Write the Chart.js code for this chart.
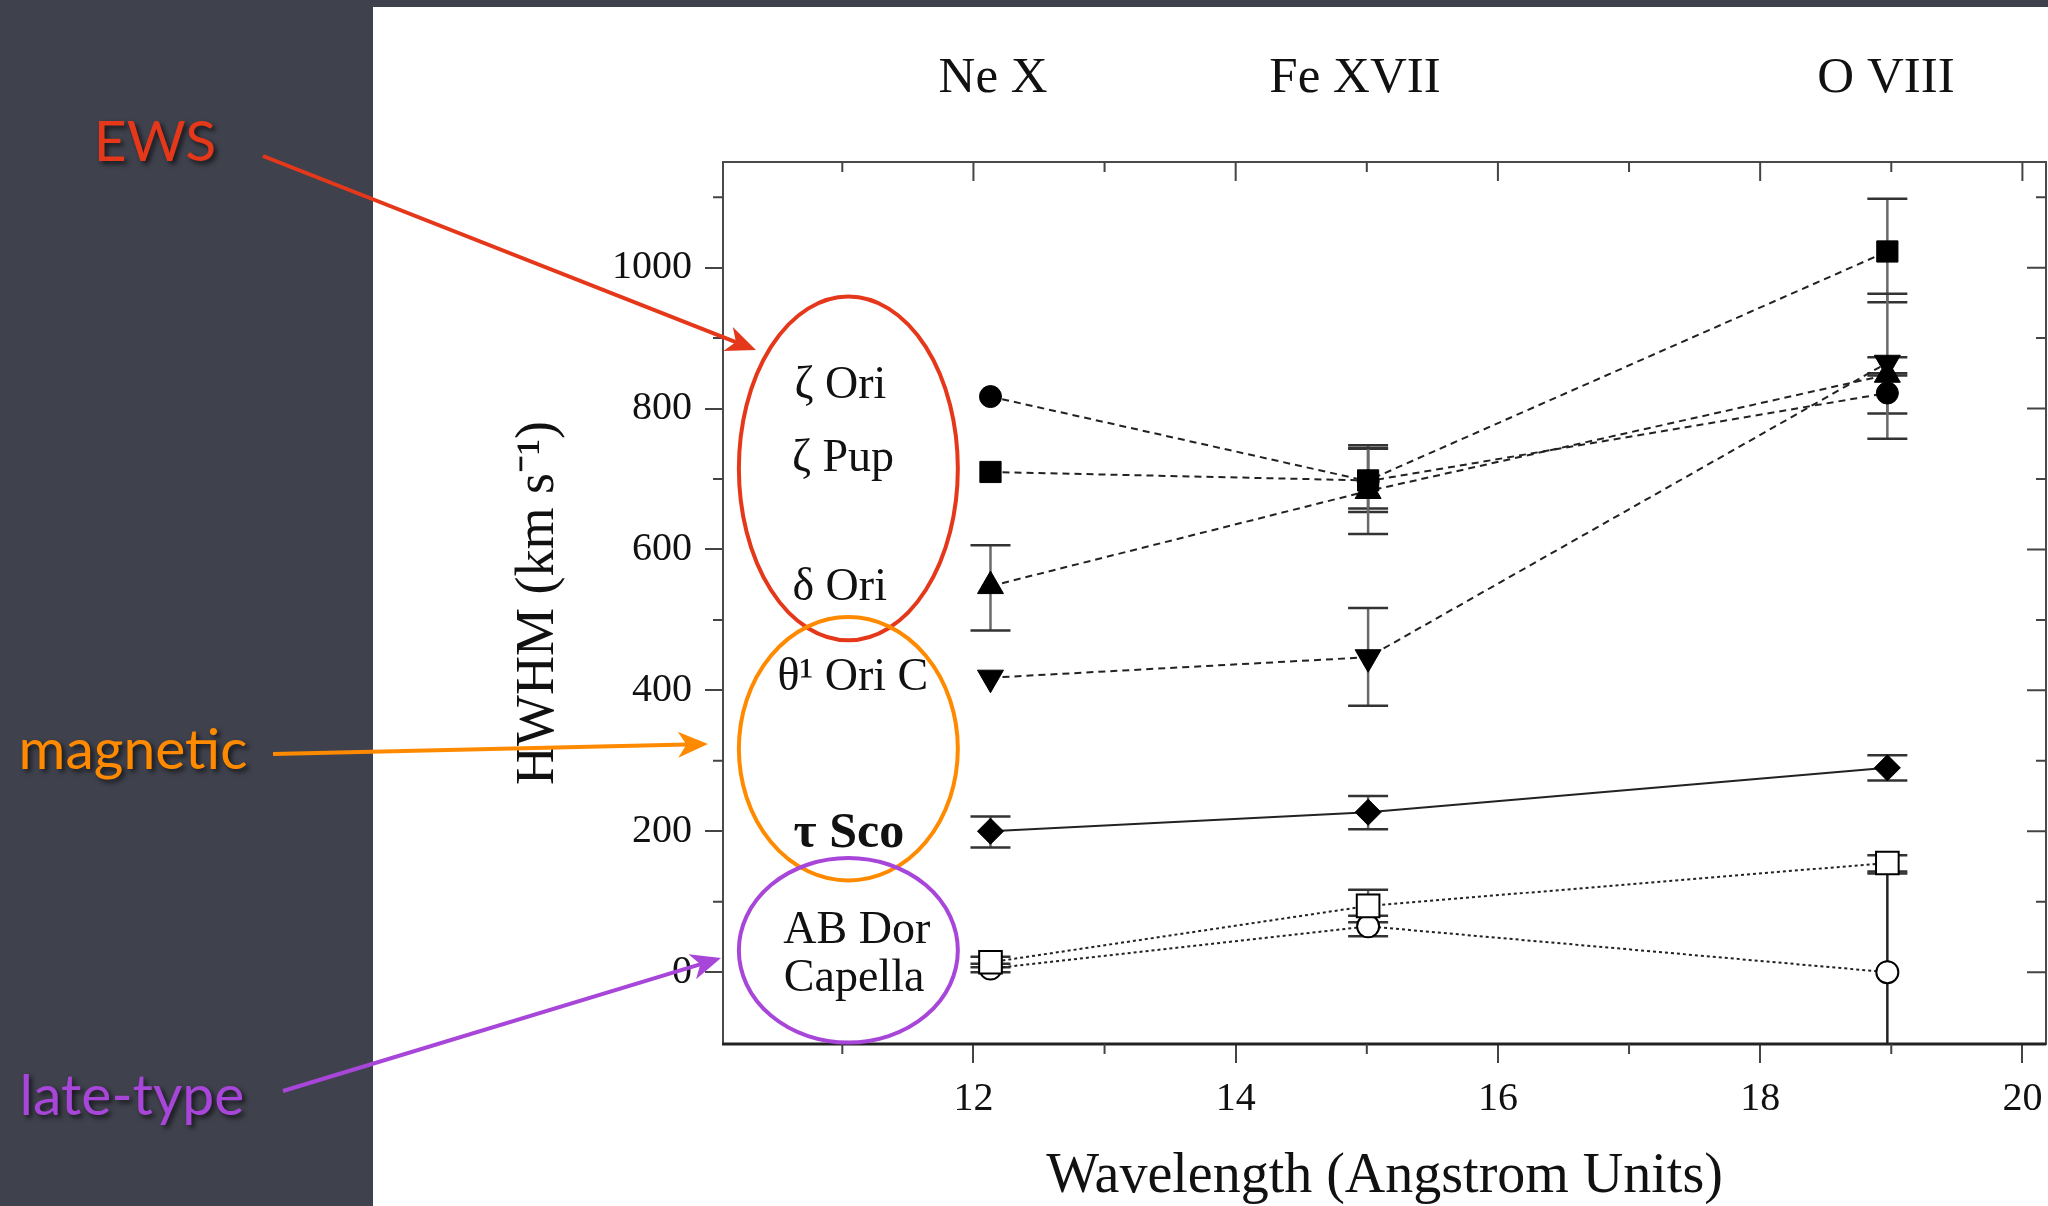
<!DOCTYPE html>
<html>
<head>
<meta charset="utf-8">
<script src="https://cdn.jsdelivr.net/npm/chart.js@4.4.0/dist/chart.umd.min.js"></script>
<style>
  html, body { margin: 0; padding: 0; background: #3f414c; overflow: hidden; }
  #wrap { width: 2048px; height: 1206px; }
</style>
</head>
<body>
<div id="wrap"><canvas id="c" width="2048" height="1206"></canvas></div>
<script>
// Line centroids (Angstrom) for the three X-ray lines
const wavelengths = [12.13, 15.01, 18.97];
const ionLabels = ['Ne X', 'Fe XVII', 'O VIII'];
const ionLabelX = [12.15, 14.91, 18.96];

// HWHM values (km/s) with lower / upper error limits (null = no bar)
const zetaOri = [817, 697, 822];
const zetaOriLow = [null, 658, 793];
const zetaOriHigh = [null, 748, 850];

const zetaPup = [710, 698, 1023];
const zetaPupLow = [null, 653, 951];
const zetaPupHigh = [null, 743, 1098];

const deltaOri = [548, 683, 848];
const deltaOriLow = [485, 622, 757];
const deltaOriHigh = [606, 744, 963];

const theta1OriC = [418, 447, 865];
const theta1OriCLow = [null, 378, 847];
const theta1OriCHigh = [null, 517, 873];

const tauSco = [200, 227, 290];
const tauScoLow = [177, 203, 272];
const tauScoHigh = [221, 250, 308];

const abDor = [14, 94, 155];
const abDorLow = [7, 71, 140];
const abDorHigh = [22, 117, 166];

const capella = [5, 65, 0];
const capellaLow = [0, 51, -145];
const capellaHigh = [12, 80, 143];

// Axis ticks
const xMajorTicks = [12, 14, 16, 18, 20];
const xMinorTicks = [11, 13, 15, 17, 19];
const yMajorTicks = [0, 200, 400, 600, 800, 1000];
const yMinorTicks = [100, 300, 500, 700, 900, 1100];

// Star names written inside the group ellipses (x in Angstrom, y in km/s)
const starNames = ['ζ Ori', 'ζ Pup', 'δ Ori', 'θ¹ Ori C', 'τ Sco', 'AB Dor', 'Capella'];
const starNameX = [10.985, 11.005, 10.98, 11.08, 11.05, 11.11, 11.09];
const starNameY = [832, 729, 546, 417, 196, 59, -10];

// Group ellipses: centre and half-axes in data units
const groupNames = ['EWS', 'magnetic', 'late-type'];
const groupColors = ['#e5381b', '#ff8a00', '#a746d9'];
const groupCx = [11.046, 11.046, 11.046];
const groupCy = [715, 317, 31];
const groupRx = [0.835, 0.835, 0.835];
const groupRy = [244, 187, 131];

const SERIF = "'Liberation Serif', 'Times New Roman', serif";

function pts(values) {
  return wavelengths.map((x, i) => ({ x: x, y: values[i] }));
}

function series(label, values, low, high, opts) {
  return Object.assign({
    label: label,
    data: pts(values),
    errLow: low,
    errHigh: high,
    errColor: '#6a6a6a',
    borderColor: '#222',
    borderWidth: 2,
    pointBackgroundColor: '#000',
    pointBorderColor: '#000',
    pointBorderWidth: 1,
    tension: 0,
    fill: false
  }, opts);
}

const DASH = [7, 5];
const DOT = [3, 3];

const datasets = [
  series('ζ Pup', zetaPup, zetaPupLow, zetaPupHigh, { borderDash: DASH, pointStyle: 'rect', pointRadius: 15 }),
  series('ζ Ori', zetaOri, zetaOriLow, zetaOriHigh, { borderDash: DASH, pointStyle: 'circle', pointRadius: 11 }),
  series('δ Ori', deltaOri, deltaOriLow, deltaOriHigh, { borderDash: DASH, pointStyle: 'triangle', pointRadius: 15 }),
  series('θ¹ Ori C', theta1OriC, theta1OriCLow, theta1OriCHigh, { borderDash: DASH, pointStyle: 'triangle', pointRotation: 180, pointRadius: 15 }),
  series('τ Sco', tauSco, tauScoLow, tauScoHigh, { pointStyle: 'rectRot', pointRadius: 13 }),
  series('AB Dor', abDor, abDorLow, abDorHigh, { borderDash: DOT, pointStyle: 'rect', pointRadius: 16, pointBackgroundColor: '#fff', pointBorderWidth: 2 }),
  series('Capella', capella, capellaLow, capellaHigh, { borderDash: DOT, pointStyle: 'circle', pointRadius: 11, pointBackgroundColor: '#fff', pointBorderWidth: 2, errColor: '#222' })
];

function arrow(ctx, x0, y0, x1, y1, color) {
  const a = Math.atan2(y1 - y0, x1 - x0);
  const c = Math.cos(a), s = Math.sin(a);
  const L = 30, W = 13;
  ctx.strokeStyle = color;
  ctx.fillStyle = color;
  ctx.lineWidth = 4;
  ctx.beginPath();
  ctx.moveTo(x0, y0);
  ctx.lineTo(x1 - L * 0.7 * c, y1 - L * 0.7 * s);
  ctx.stroke();
  ctx.beginPath();
  ctx.moveTo(x1, y1);
  ctx.lineTo(x1 - L * c + W * s, y1 - L * s - W * c);
  ctx.lineTo(x1 - L * 0.72 * c, y1 - L * 0.72 * s);
  ctx.lineTo(x1 - L * c - W * s, y1 - L * s + W * c);
  ctx.closePath();
  ctx.fill();
}

const decorations = {
  id: 'decorations',
  beforeDraw(chart) {
    const { ctx, width, height } = chart;
    ctx.save();
    ctx.fillStyle = '#3f414c';
    ctx.fillRect(0, 0, width, height);
    ctx.fillStyle = '#ffffff';
    ctx.fillRect(373, 7, width - 373, height - 7);
    ctx.restore();
  },
  beforeDatasetsDraw(chart) {
    // error bars sit underneath the markers
    const { ctx, chartArea: ca } = chart;
    const xs = chart.scales.x, ys = chart.scales.y;
    ctx.save();
    ctx.beginPath();
    ctx.rect(ca.left, ca.top, ca.right - ca.left, ca.bottom - ca.top);
    ctx.clip();
    chart.data.datasets.forEach(ds => {
      wavelengths.forEach((w, i) => {
        const lo = ds.errLow[i], hi = ds.errHigh[i];
        if (lo === null || hi === null) return;
        const px = xs.getPixelForValue(w);
        const pl = ys.getPixelForValue(lo), ph = ys.getPixelForValue(hi);
        ctx.strokeStyle = ds.errColor;
        ctx.lineWidth = 2.5;
        ctx.beginPath();
        ctx.moveTo(px, pl);
        ctx.lineTo(px, ph);
        ctx.stroke();
        ctx.strokeStyle = '#333';
        ctx.lineWidth = 2.5;
        ctx.beginPath();
        ctx.moveTo(px - 20, pl); ctx.lineTo(px + 20, pl);
        ctx.moveTo(px - 20, ph); ctx.lineTo(px + 20, ph);
        ctx.stroke();
      });
    });
    ctx.restore();
  },
  afterDraw(chart) {
    const { ctx, chartArea: ca } = chart;
    const xs = chart.scales.x, ys = chart.scales.y;
    ctx.save();

    // frame
    ctx.strokeStyle = '#4a4a4a';
    ctx.lineWidth = 2;
    ctx.strokeRect(ca.left, ca.top, ca.right - ca.left, ca.bottom - ca.top);
    ctx.strokeStyle = '#222';
    ctx.lineWidth = 3;
    ctx.beginPath();
    ctx.moveTo(ca.left - 1, ca.bottom); ctx.lineTo(ca.right, ca.bottom);
    ctx.stroke();

    // minor ticks outside (left / bottom), all ticks inside (top / right)
    ctx.strokeStyle = '#444';
    ctx.lineWidth = 2;
    ctx.beginPath();
    xMinorTicks.forEach(v => {
      const p = xs.getPixelForValue(v);
      ctx.moveTo(p, ca.bottom); ctx.lineTo(p, ca.bottom + 10);
      ctx.moveTo(p, ca.top); ctx.lineTo(p, ca.top + 10);
    });
    xMajorTicks.forEach(v => {
      const p = xs.getPixelForValue(v);
      ctx.moveTo(p, ca.top); ctx.lineTo(p, ca.top + 19);
    });
    yMinorTicks.forEach(v => {
      const p = ys.getPixelForValue(v);
      ctx.moveTo(ca.left, p); ctx.lineTo(ca.left - 10, p);
      ctx.moveTo(ca.right, p); ctx.lineTo(ca.right - 10, p);
    });
    yMajorTicks.forEach(v => {
      const p = ys.getPixelForValue(v);
      ctx.moveTo(ca.right, p); ctx.lineTo(ca.right - 19, p);
    });
    ctx.stroke();

    // ion labels above the frame
    ctx.fillStyle = '#111';
    ctx.font = '51px ' + SERIF;
    ctx.textAlign = 'center';
    ctx.textBaseline = 'middle';
    ionLabels.forEach((t, i) => {
      ctx.fillText(t, xs.getPixelForValue(ionLabelX[i]), ca.top - 83);
    });

    // group ellipses
    ctx.lineWidth = 4;
    groupNames.forEach((g, i) => {
      const cx = xs.getPixelForValue(groupCx[i]);
      const cy = ys.getPixelForValue(groupCy[i]);
      const rx = Math.abs(xs.getPixelForValue(groupCx[i] + groupRx[i]) - cx);
      const ry = Math.abs(ys.getPixelForValue(groupCy[i] + groupRy[i]) - cy);
      ctx.strokeStyle = groupColors[i];
      ctx.beginPath();
      ctx.ellipse(cx, cy, rx, ry, 0, 0, Math.PI * 2);
      ctx.stroke();
    });

    // star names
    ctx.fillStyle = '#111';
    starNames.forEach((t, i) => {
      ctx.font = (t === 'τ Sco' ? 'bold 50px ' : '46px ') + SERIF;
      ctx.fillText(t, xs.getPixelForValue(starNameX[i]), ys.getPixelForValue(starNameY[i]));
    });

    // category labels in the side panel, with arrows to the ellipses
    const labelPos = [[155, 161], [133, 769], [132, 1115]];
    const arrowPath = [[263, 156, 756, 350], [273, 754, 708, 744], [283, 1091, 721, 958]];
    groupNames.forEach((g, i) => {
      ctx.save();
      ctx.shadowColor = 'rgba(0,0,0,0.65)';
      ctx.shadowBlur = 5;
      ctx.shadowOffsetX = 3;
      ctx.shadowOffsetY = 3;
      ctx.fillStyle = groupColors[i];
      ctx.font = '57px Lato, sans-serif';
      ctx.textAlign = 'center';
      ctx.textBaseline = 'alphabetic';
      ctx.fillText(g, labelPos[i][0], labelPos[i][1]);
      ctx.restore();
      const a = arrowPath[i];
      arrow(ctx, a[0], a[1], a[2], a[3], groupColors[i]);
    });

    ctx.restore();
  }
};

new Chart(document.getElementById('c'), {
  type: 'line',
  data: { datasets: datasets },
  plugins: [decorations],
  options: {
    responsive: false,
    animation: false,
    events: [],
    layout: { autoPadding: false, padding: { left: 506, right: 2, top: 162, bottom: 0 } },
    plugins: { legend: { display: false }, tooltip: { enabled: false } },
    scales: {
      x: {
        type: 'linear',
        min: 10.09,
        max: 20.18,
        afterBuildTicks: s => { s.ticks = xMajorTicks.map(v => ({ value: v })); },
        afterFit: s => { s.height = 162; s.paddingLeft = 0; s.paddingRight = 0; },
        border: { display: false },
        grid: { drawOnChartArea: false, drawTicks: true, tickLength: 19, color: '#444', lineWidth: 2 },
        ticks: { color: '#111', font: { family: SERIF, size: 40 }, padding: 12, maxRotation: 0,
                 callback: v => String(v) },
        title: { display: true, text: 'Wavelength (Angstrom Units)', color: '#111',
                 font: { family: SERIF, size: 56 }, padding: { top: 0, bottom: -5 } }
      },
      y: {
        type: 'linear',
        min: -102,
        max: 1150,
        afterBuildTicks: s => { s.ticks = yMajorTicks.map(v => ({ value: v })); },
        afterFit: s => { s.width = 217; s.paddingTop = 0; s.paddingBottom = 0; },
        border: { display: false },
        grid: { drawOnChartArea: false, drawTicks: true, tickLength: 18, color: '#444', lineWidth: 2 },
        ticks: { color: '#111', font: { family: SERIF, size: 40 }, padding: 13,
                 callback: v => String(v) },
        title: { display: true, text: 'HWHM (km s⁻¹)', color: '#111',
                 font: { family: SERIF, size: 54 }, padding: { top: 0, bottom: 0 } }
      }
    }
  }
});
</script>
</body>
</html>
